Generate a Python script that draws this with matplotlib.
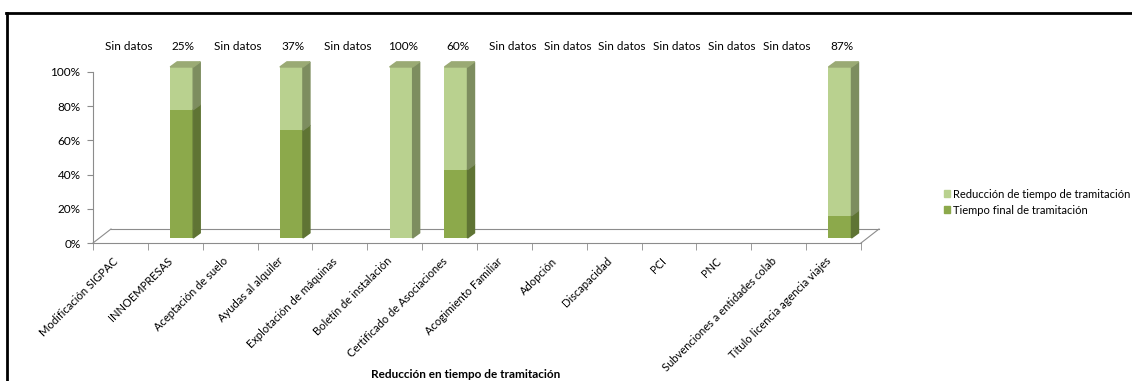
import matplotlib
matplotlib.use("Agg")
import matplotlib.pyplot as plt
import matplotlib.transforms as mtransforms
from matplotlib.patches import Polygon, Patch
from matplotlib.lines import Line2D
from matplotlib.ticker import PercentFormatter

plt.rcParams['font.family'] = ['Lato', 'DejaVu Sans']

categories = [
    "Modificación SIGPAC", "INNOEMPRESAS", "Aceptación de suelo", "Ayudas al alquiler",
    "Explotación de máquinas", "Boletín de instalación", "Certificado de Asociaciones",
    "Acogimiento Familiar", "Adopción", "Discapacidad", "PCI", "PNC",
    "Subvenciones a entidades colab", "Título licencia agencia viajes",
]
tiempo_final = [0, 0.75, 0, 0.63, 0, 0, 0.40, 0, 0, 0, 0, 0, 0, 0.13]
reduccion = [0, 0.25, 0, 0.37, 0, 1.00, 0.60, 0, 0, 0, 0, 0, 0, 0.87]
top_labels = ["Sin datos", "25%", "Sin datos", "37%", "Sin datos", "100%", "60%",
              "Sin datos", "Sin datos", "Sin datos", "Sin datos", "Sin datos",
              "Sin datos", "87%"]

LIGHT = "#b9d18f"
LIGHT_SIDE = "#7d8d5f"
LIGHT_TOP = "#9aaa74"
DARK = "#8ca94b"
DARK_SIDE = "#5f7434"
GREY = "#8c8c8c"

W, H = 1132, 381
fig = plt.figure(figsize=(W / 100, H / 100), dpi=100)
ax = fig.add_axes([93 / W, (H - 243) / H, 768 / W, 171 / H])

n = len(categories)
x = list(range(n))
ax.set_xlim(-0.5, n - 0.5)
ax.set_ylim(0, 1)

# bars sit halfway into the 3d floor
off = ax.transData + mtransforms.ScaledTranslation(0.064, 0.05, fig.dpi_scale_trans)
bw = 0.42
dx, dy = 0.128, 0.03

ax.bar(x, tiempo_final, width=bw, color=DARK, transform=off, clip_on=False, zorder=3)
ax.bar(x, reduccion, width=bw, bottom=tiempo_final, color=LIGHT, transform=off,
       clip_on=False, zorder=3)

for i in x:
    r = i + bw / 2
    l = i - bw / 2
    y0 = 0
    for val, side in [(tiempo_final[i], DARK_SIDE), (reduccion[i], LIGHT_SIDE)]:
        if val > 0:
            y1 = y0 + val
            ax.add_patch(Polygon([(r, y0), (r + dx, y0 + dy), (r + dx, y1 + dy), (r, y1)],
                                 closed=True, color=side, transform=off, clip_on=False, zorder=3))
            y0 = y1
    if y0 > 0:
        top_col = LIGHT_TOP if reduccion[i] > 0 else DARK_SIDE
        ax.add_patch(Polygon([(l, y0), (r, y0), (r + dx, y0 + dy), (l + dx, y0 + dy)],
                             closed=True, color=top_col, transform=off, clip_on=False, zorder=3))

# floor
fdx, fdy = 18 / 54.86, 14 / 171
floor_kw = dict(color=GREY, lw=0.8, clip_on=False, zorder=1)
ax.plot([-0.5 + fdx, n - 0.5 + fdx], [fdy, fdy], **floor_kw)
ax.plot([-0.5, -0.5 + fdx], [0, fdy], **floor_kw)
ax.plot([n - 0.5, n - 0.5 + fdx], [0, fdy], **floor_kw)

for sp in ["top", "right"]:
    ax.spines[sp].set_visible(False)
for sp in ["left", "bottom"]:
    ax.spines[sp].set_color(GREY)
    ax.spines[sp].set_linewidth(0.8)

ax.set_yticks([0, 0.2, 0.4, 0.6, 0.8, 1.0])
ax.yaxis.set_major_formatter(PercentFormatter(1.0, decimals=0))
ax.tick_params(axis="y", length=4, color=GREY, labelsize=8.5, pad=5)

ax.set_xticks([i - 0.5 for i in range(n + 1)], minor=True)
ax.tick_params(axis="x", which="minor", length=5, color=GREY)
ax.set_xticks(x)
ax.set_xticklabels(categories, rotation=45, ha="right", va="top",
                   rotation_mode="anchor", fontsize=8)
ax.tick_params(axis="x", which="major", length=0, pad=9)
shift = mtransforms.ScaledTranslation(-0.08, 0, fig.dpi_scale_trans)
for lab in ax.get_xticklabels():
    lab.set_transform(lab.get_transform() + shift)

for i in x:
    ax.annotate(top_labels[i], xy=(i, 1), xytext=(8, 26), textcoords="offset pixels",
                ha="center", va="center", fontsize=8.5, annotation_clip=False)

fig.text(466 / W, (H - 375) / H, "Reducción en tiempo de tramitación",
         ha="center", va="center", fontsize=8.5, fontweight="bold")

handles = [Patch(color=LIGHT), Patch(color=DARK)]
fig.legend(handles, ["Reducción de tiempo de tramitación", "Tiempo final de tramitación"],
           loc="center left", bbox_to_anchor=(944 / W, (H - 202) / H), frameon=False,
           fontsize=8, handlelength=0.55, handleheight=0.55, handletextpad=0.3,
           labelspacing=0.45, borderpad=0, borderaxespad=0)

# chart frame
fig.add_artist(Line2D([6 / W, 1], [(H - 13) / H, (H - 13) / H], color="black", lw=2,
                      transform=fig.transFigure))
fig.add_artist(Line2D([7 / W, 7 / W], [0, (H - 13) / H], color="black", lw=2,
                      transform=fig.transFigure))

fig.savefig("out.png", dpi=100)
